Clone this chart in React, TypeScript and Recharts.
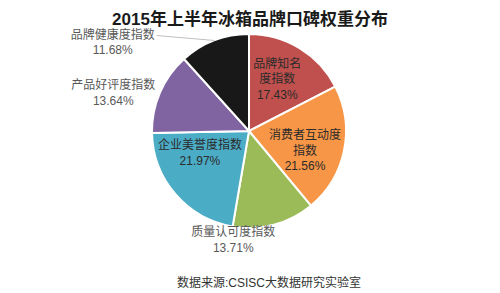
import React from "react";
import { PieChart, Pie, Cell } from "recharts";

const categories = [
  "品牌知名度指数",
  "消费者互动度指数",
  "质量认可度指数",
  "企业美誉度指数",
  "产品好评度指数",
  "品牌健康度指数",
];
const values = [17.43, 21.56, 13.71, 21.97, 13.64, 11.68];
const labelLines = [
  ["品牌知名", "度指数"],
  ["消费者互动度", "指数"],
  ["质量认可度指数"],
  ["企业美誉度指数"],
  ["产品好评度指数"],
  ["品牌健康度指数"],
];
const colors = ["#C0504D", "#F79646", "#9BBB59", "#4BACC6", "#8064A2", "#181818"];

const data = categories.map((name, i) => ({ name, value: values[i] }));

const FONT = "'Liberation Sans', 'Noto Sans CJK SC', sans-serif";

// label placement: radius factor, offsets, inside/outside
const labelCfg = [
  { k: 0.6, dx: -2, dy: -2, inside: true },
  { k: 0.6, dx: -1, dy: 8, inside: true },
  { k: 1.13, dx: -44, dy: 3, inside: false },
  { k: 0.6, dx: -5, dy: -16, inside: true },
  { k: 1.3, dx: -20, dy: 12, inside: false },
  { k: 1.3, dx: -91, dy: 29, inside: false, leader: true },
];

const RAD = Math.PI / 180;

const renderLabel = (props: any) => {
  const { cx, cy, midAngle, outerRadius, index } = props;
  const cfg = labelCfg[index];
  const cos = Math.cos(-midAngle * RAD);
  const sin = Math.sin(-midAngle * RAD);
  const x = cx + cfg.k * outerRadius * cos + cfg.dx;
  const y = cy + cfg.k * outerRadius * sin + cfg.dy;
  const lines = [...labelLines[index], values[index].toFixed(2) + "%"];
  const lh = 15.5;
  const y0 = y - ((lines.length - 1) * lh) / 2;
  const fill = cfg.inside ? "#2b2b2b" : "#595959";
  let leader: any = null;
  if (cfg.leader) {
    const ex = cx + outerRadius * cos;
    const ey = cy + outerRadius * sin;
    leader = (
      <polyline
        points={`${ex},${ey} ${x + 44},${y0 + 1}`}
        stroke="#bfbfbf"
        strokeWidth={1}
        fill="none"
      />
    );
  }
  return (
    <g>
      {leader}
      <text
        x={x}
        y={y0}
        textAnchor="middle"
        dominantBaseline="central"
        fill={fill}
        fontSize={12}
        fontFamily={FONT}
      >
        {lines.map((t, i) => (
          <tspan key={i} x={x} dy={i === 0 ? 0 : lh}>
            {t}
          </tspan>
        ))}
      </text>
    </g>
  );
};

export default function App() {
  return (
    <div
      style={{
        position: "absolute",
        left: 0,
        top: 0,
        width: 500,
        height: 293,
        background: "#ffffff",
        overflow: "hidden",
      }}
    >
      <div
        style={{
          position: "absolute",
          left: 0,
          top: 10,
          width: 500,
          textAlign: "center",
          fontFamily: FONT,
          fontWeight: 700,
          fontSize: 17,
          lineHeight: "19px",
          color: "#1a1a1a",
        }}
      >
        2015年上半年冰箱品牌口碑权重分布
      </div>
      <div style={{ position: "absolute", left: 0, top: 0 }}>
        <PieChart width={500} height={293} margin={{ top: 0, right: 0, bottom: 0, left: 0 }}>
          <Pie
            data={data}
            dataKey="value"
            nameKey="name"
            cx={249}
            cy={131}
            outerRadius={97}
            startAngle={90}
            endAngle={-270}
            stroke="#ffffff"
            strokeWidth={2}
            label={renderLabel}
            labelLine={false}
            isAnimationActive={false}
          >
            {data.map((d, i) => (
              <Cell key={d.name} fill={colors[i]} />
            ))}
          </Pie>
        </PieChart>
      </div>
      <div
        style={{
          position: "absolute",
          left: 177,
          top: 274,
          fontFamily: FONT,
          fontSize: 12,
          lineHeight: "18px",
          color: "#333333",
          whiteSpace: "nowrap",
        }}
      >
        数据来源:CSISC大数据研究实验室
      </div>
    </div>
  );
}
